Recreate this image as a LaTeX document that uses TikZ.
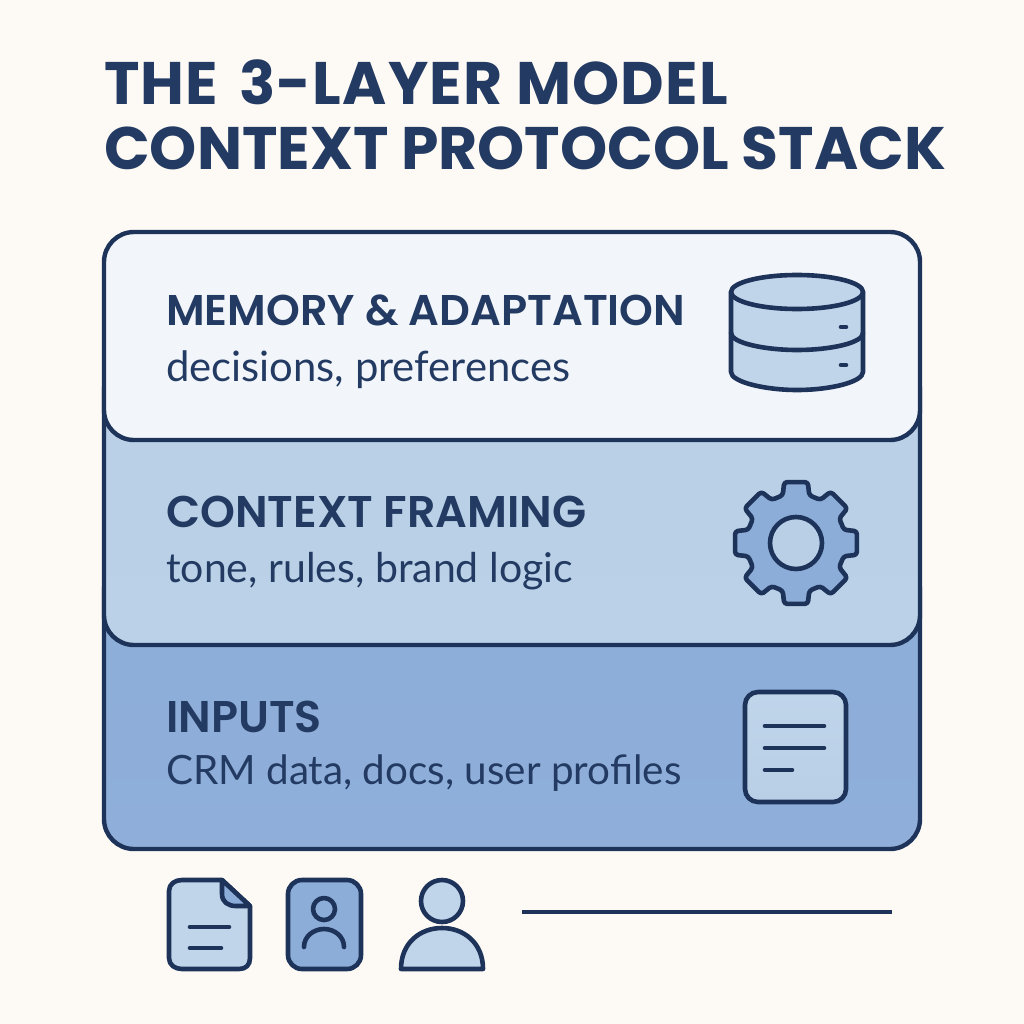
\documentclass[tikz,border=0pt]{standalone}
\usepackage{fontspec}
\setmainfont{Lato}
\newfontfamily\titlefont{Poppins}[BoldFont={Poppins Bold},BoldFeatures={}]
\newfontfamily\headfont{Poppins}[BoldFont={Poppins SemiBold},BoldFeatures={}]
\definecolor{ink}{HTML}{1E3359}
\definecolor{textink}{HTML}{233A62}
\definecolor{paper}{HTML}{FDFAF5}
\definecolor{palest}{HTML}{F2F6FA}
\definecolor{midblue}{HTML}{B8CFE6}
\definecolor{midblueb}{HTML}{BAD1E8}
\definecolor{deepblue}{HTML}{8CADD8}
\definecolor{deepblueb}{HTML}{8FAFDA}
\definecolor{iconfill}{HTML}{C0D5EA}
\tikzset{
  layer/.style={draw=ink,line width=4.4pt,rounded corners=30pt},
  ico/.style={draw=ink,line width=4.6pt,line join=round,line cap=round},
  titletext/.style={anchor=base west,inner sep=0pt,text=textink,font=\titlefont\fontsize{60}{60}\selectfont\bfseries},
  headtext/.style={anchor=base west,inner sep=0pt,text=textink},
  subtext/.style={anchor=base west,inner sep=0pt,text=textink},
}
\newcommand{\hf}[1]{\headfont\fontsize{#1}{#1}\selectfont\bfseries}
\newcommand{\sbf}[1]{\fontsize{#1}{#1}\selectfont}
\begin{document}
\begin{tikzpicture}[x=1pt,y=-1pt]
\useasboundingbox (0,0) rectangle (1024,1024);
\fill[paper] (0,0) rectangle (1024,1024);
% layers
\draw[layer,top color=deepblue,bottom color=deepblueb] (104,560) rectangle (920,849);
\draw[layer,top color=midblue,bottom color=midblueb] (104,360) rectangle (920,645);
\draw[layer,fill=palest] (104,232) rectangle (920,440);
% title
\node[titletext] (t1) at (104,105) {\addfontfeature{LetterSpace=2}THE\hspace{0.12em} 3-LAYER MODEL};
\node[titletext] (t2) at (104,170) {CONTEXT PROTOCOL STACK};
% labels
\node[headtext,font=\hf{43}] (h1) at (166,325) {MEMORY \& ADAPTATION};
\node[subtext,font=\sbf{41.8}] (s1) at (166,381) {decisions, preferences};
\node[headtext,font=\hf{44.4}] (h2) at (166,527) {CONTEXT FRAMING};
\node[subtext,font=\sbf{41}] (s2) at (166,582) {tone, rules, brand logic};
\node[headtext,font=\hf{44.4}] (h3) at (166,732) {INPUTS};
\node[subtext,font=\sbf{40.4}] (s3) at (166,784) {CRM data, docs, user profiles};
% database
\draw[ico,fill=iconfill] (731,292) -- (731,372) .. controls (731,382) and (765,390) .. (797,390) .. controls (830,390) and (863,382) .. (863,372) -- (863,292) -- cycle;
\draw[ico,fill=iconfill] (797,292) ellipse [x radius=66,y radius=17];
\draw[ico] (731,333) .. controls (731,343) and (765,350) .. (797,350) .. controls (830,350) and (863,343) .. (863,333);
\draw[ico] (841,327) -- (846,327);
\draw[ico] (841,365) -- (846,365);
% gear
\begin{scope}[shift={(796,543)}]
\draw[ico,fill=deepblue,rounded corners=3pt] (-22.5:49.5)
  \foreach \a in {0,45,...,315} { -- ({\a-15.5}:49.5) -- ({\a-11}:62) -- ({\a+11}:62) -- ({\a+15.5}:49.5) } -- cycle;
\draw[ico,fill=midblue] (0,0) circle (26);
\end{scope}
% inputs document icon
\draw[ico,top color=iconfill,bottom color=midblue,rounded corners=13pt] (745,692) rectangle (846,802);
\draw[ico] (765,726) -- (824,726);
\draw[ico] (765,748) -- (824,748);
\draw[ico] (765,770) -- (792,770);
% bottom document
\draw[ico,fill=iconfill] (182,880) -- (222,880) -- (250,906) -- (250,958) .. controls (250,965) and (246,969) .. (239,969) -- (182,969) .. controls (175,969) and (169,965) .. (169,958) -- (169,891) .. controls (169,884) and (175,880) .. (182,880) -- cycle;
\draw[ico,fill=deepblue] (222,880) -- (250,906) -- (236,906) .. controls (228,906) and (222,902) .. (222,894) -- cycle;
\draw[ico] (190,927) -- (229,927);
\draw[ico] (190,948) -- (221,948);
% badge
\draw[ico,fill=deepblue,rounded corners=14pt] (288,880) rectangle (361,969);
\draw[ico,fill=deepblue] (324,909) circle (11);
\draw[ico] (304,947) .. controls (304,936) and (314,929) .. (324,929) .. controls (334,929) and (344,936) .. (344,947);
% person
\draw[ico,fill=iconfill] (442,901) circle (21);
\draw[ico,fill=iconfill] (401,969) .. controls (401,943) and (420,928) .. (442,928) .. controls (464,928) and (483,943) .. (483,969) -- cycle;
% rule
\coordinate (ra) at (522,912);
\coordinate (rb) at (892,912);
\draw[draw=ink,line width=3.4pt] (ra) -- (rb);
\end{tikzpicture}
\end{document}
